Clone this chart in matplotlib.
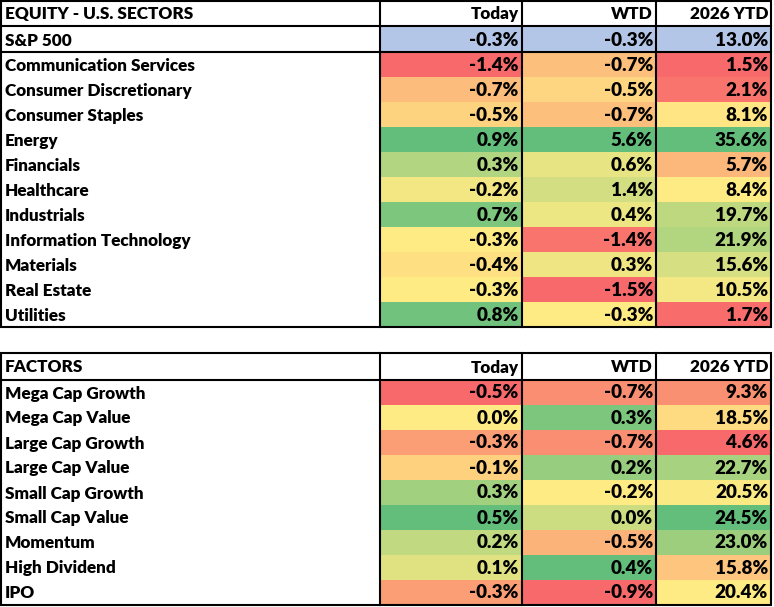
import matplotlib
matplotlib.use("Agg")
import matplotlib.pyplot as plt
from matplotlib.patches import Rectangle

# ---------------- data ----------------
columns = ["Today", "WTD", "2026 YTD"]

eq_title = "EQUITY - U.S. SECTORS"
benchmark_name = "S&P 500"
benchmark_vals = [-0.3, -0.3, 13.0]
sectors = ["Communication Services", "Consumer Discretionary", "Consumer Staples",
           "Energy", "Financials", "Healthcare", "Industrials",
           "Information Technology", "Materials", "Real Estate", "Utilities"]
sector_today = [-1.4, -0.7, -0.5, 0.9, 0.3, -0.2, 0.7, -0.3, -0.4, -0.3, 0.8]
sector_wtd = [-0.7, -0.5, -0.7, 5.6, 0.6, 1.4, 0.4, -1.4, 0.3, -1.5, -0.3]
sector_ytd = [1.5, 2.1, 8.1, 35.6, 5.7, 8.4, 19.7, 21.9, 15.6, 10.5, 1.7]

fac_title = "FACTORS"
factors = ["Mega Cap Growth", "Mega Cap Value", "Large Cap Growth", "Large Cap Value",
           "Small Cap Growth", "Small Cap Value", "Momentum", "High Dividend", "IPO"]
factor_today = [-0.5, 0.0, -0.3, -0.1, 0.3, 0.5, 0.2, 0.1, -0.3]
factor_wtd = [-0.7, 0.3, -0.7, 0.2, -0.2, 0.0, -0.5, 0.4, -0.9]
factor_ytd = [9.3, 18.5, 4.6, 22.7, 20.5, 24.5, 23.0, 15.8, 20.4]

# ---------------- style ----------------
RED = (248, 105, 107)
YEL = (255, 235, 132)
GRN = (99, 190, 123)
BLUE = "#b4c6e7"
FONT = "Lato"
WEIGHT = "heavy"
FS = 12.3
NUM_FS = 13.6
LW = 1.5

def lerp(c1, c2, t):
    return tuple((a + (b - a) * t) / 255.0 for a, b in zip(c1, c2))

def scale_colors(vals):
    s = sorted(vals)
    n = len(s)
    med = s[n // 2] if n % 2 else (s[n // 2 - 1] + s[n // 2]) / 2
    lo, hi = s[0], s[-1]
    out = []
    for v in vals:
        if v <= med:
            t = 0 if med == lo else (v - lo) / (med - lo)
            out.append(lerp(RED, YEL, t))
        else:
            t = 0 if hi == med else (v - med) / (hi - med)
            out.append(lerp(YEL, GRN, t))
    return out

fig = plt.figure(figsize=(7.74, 6.07), dpi=100)
ax = fig.add_axes([0, 0, 1, 1])
ax.set_xlim(0, 774)
ax.set_ylim(607, 0)
ax.axis("off")

col_edges = [1, 379.5, 521.5, 656, 771]

def fmt(v):
    return f"{v:.1f}%"

def label(x, y, s, ha, fs=FS):
    ax.text(x, y, s, ha=ha, va="baseline", fontsize=fs, fontweight=WEIGHT,
            family=FONT, zorder=6)

def draw_table(top, header_h, title, bench, names, series):
    row_h = 25
    y = top
    label(col_edges[0] + 4, y + header_h - 7, title, "left")
    for j, c in enumerate(columns):
        label(col_edges[j + 2] - 3, y + header_h - 7, c, "right")
    y += header_h
    ax.plot([col_edges[0], col_edges[-1]], [y, y], color="black", lw=LW, zorder=5)
    if bench is not None:
        bname, bvals = bench
        for j, v in enumerate(bvals):
            ax.add_patch(Rectangle((col_edges[j + 1], y), col_edges[j + 2] - col_edges[j + 1],
                                   26, color=BLUE, lw=0))
            label(col_edges[j + 2] - 3, y + 19.5, fmt(v), "right", NUM_FS)
        label(col_edges[0] + 4, y + 19.5, bname, "left")
        y += 26
        ax.plot([col_edges[0], col_edges[-1]], [y, y], color="black", lw=LW, zorder=5)
    cols = [scale_colors(s) for s in series]
    for i, name in enumerate(names):
        ry = y + i * row_h
        label(col_edges[0] + 4, ry + 19, name, "left")
        for j, s in enumerate(series):
            ax.add_patch(Rectangle((col_edges[j + 1], ry), col_edges[j + 2] - col_edges[j + 1],
                                   row_h, color=cols[j][i], lw=0, zorder=0))
            label(col_edges[j + 2] - 3, ry + 19, fmt(s[i]), "right", NUM_FS)
    bottom = y + len(names) * row_h
    ax.add_patch(Rectangle((col_edges[0], top), col_edges[-1] - col_edges[0], bottom - top,
                           fill=False, ec="black", lw=LW, zorder=5))
    for x in col_edges[1:-1]:
        ax.plot([x, x], [top, bottom], color="black", lw=LW, zorder=5)
    return bottom

draw_table(1, 25, eq_title, (benchmark_name, benchmark_vals), sectors,
           [sector_today, sector_wtd, sector_ytd])
draw_table(352.5, 27, fac_title, None, factors,
           [factor_today, factor_wtd, factor_ytd])

fig.savefig("out.png", dpi=100)
